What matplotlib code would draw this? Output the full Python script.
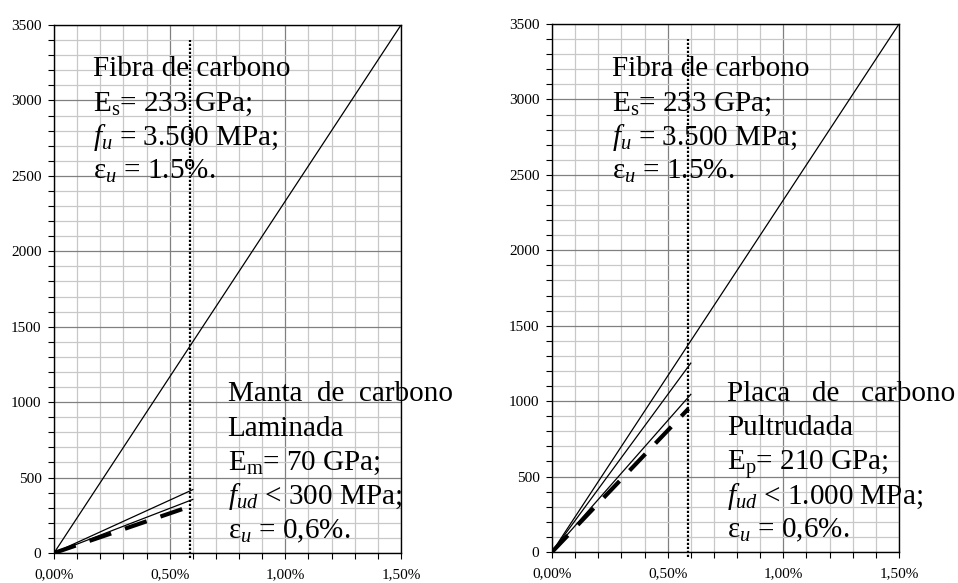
# plot: curvas tensión-deformación, fibra / manta / placa de carbono

import matplotlib
matplotlib.use("Agg")
from matplotlib import pyplot as plt
from matplotlib.ticker import MultipleLocator

plt.rcParams["font.family"] = ["Liberation Serif", "DejaVu Serif"]
plt.rcParams["mathtext.fontset"] = "custom"
plt.rcParams["mathtext.rm"] = "Liberation Serif"
plt.rcParams["mathtext.it"] = "Liberation Serif:italic"

# deformación en %, tensión en MPa
fibra_x = [0.0, 1.5]
fibra_y = [0, 3500]

manta_x = [0.0, 0.6]
manta_a = [0, 420]
manta_b = [0, 355]
manta_d = [0, 315]

placa_x = [0.0, 0.6]
placa_a = [0, 1252]
placa_b = [0, 1045]
placa_dx = [0.0, 0.59]
placa_d = [0, 950]

eps_lim = 0.588
eps_lim_y = [-30, 3400]

xtick_vals = [0, 0.5, 1.0, 1.5]
xtick_labels = ["0,00%", "0,50%", "1,00%", "1,50%"]
ytick_vals = [0, 500, 1000, 1500, 2000, 2500, 3000, 3500]

txt_fibra = ["Fibra de carbono",
             r"E$_\mathrm{s}$= 233 GPa;",
             r"$f_u$ = 3.500 MPa;",
             r"ε$_u$ = 1.5%."]
txt_manta = ["Manta  de  carbono",
             "Laminada",
             r"E$_\mathrm{m}$= 70 GPa;",
             r"$f_{ud}$ < 300 MPa;",
             r"ε$_u$ = 0,6%."]
txt_placa = ["Placa   de   carbono",
             "Pultrudada",
             r"E$_\mathrm{p}$= 210 GPa;",
             r"$f_{ud}$ < 1.000 MPa;",
             r"ε$_u$ = 0,6%."]


def base_axes(ax):
    ax.set_xlim(0, 1.5)
    ax.set_ylim(0, 3500)
    ax.xaxis.set_minor_locator(MultipleLocator(0.1))
    ax.yaxis.set_minor_locator(MultipleLocator(100))
    ax.set_xticks(xtick_vals)
    ax.set_xticklabels(xtick_labels)
    ax.set_yticks(ytick_vals)
    ax.grid(which="minor", color="#c8c8c8", lw=0.9)
    ax.grid(which="major", color="#808080", lw=0.9)
    ax.set_axisbelow(True)
    ax.tick_params(which="both", direction="out", length=4, width=0.8,
                   labelsize=11)
    ax.tick_params(axis="x", pad=7)
    ax.tick_params(axis="y", pad=5)
    for s in ax.spines.values():
        s.set_linewidth(1.0)
    ax.plot(fibra_x, fibra_y, color="black", lw=0.9)
    ax.plot([eps_lim, eps_lim], eps_lim_y, color="black", lw=1.6,
            linestyle=(0, (1, 0.8)), clip_on=False)


def text_block(ax, x, y0, lines, step=34.2 / 528):
    # una línea por texto para que el interlineado sea fijo
    for i, s in enumerate(lines):
        ax.text(x, y0 - i * step, s, transform=ax.transAxes, fontsize=21,
                va="baseline", ha="left")


fig = plt.figure(figsize=(9.58, 5.83), dpi=100)
ax1 = fig.add_axes([54 / 958, 1 - 553 / 583, 347 / 958, 528 / 583])
ax2 = fig.add_axes([552 / 958, 1 - 552 / 583, 347 / 958, 528 / 583])

base_axes(ax1)
ax1.plot(manta_x, manta_a, color="black", lw=0.9)
ax1.plot(manta_x, manta_b, color="black", lw=0.9)
ax1.plot(manta_x, manta_d, color="black", lw=3, dashes=(5.5, 3.5))
text_block(ax1, 0.112, 0.903, txt_fibra)
text_block(ax1, 0.50, 0.287, txt_manta)

base_axes(ax2)
ax2.plot(placa_x, placa_a, color="black", lw=0.9)
ax2.plot(placa_x, placa_b, color="black", lw=0.9)
ax2.plot(placa_dx, placa_d, color="black", lw=3, dashes=(5.5, 3.5))
text_block(ax2, 0.173, 0.901, txt_fibra)
text_block(ax2, 0.504, 0.286, txt_placa)

fig.savefig("out.png", dpi=100)
